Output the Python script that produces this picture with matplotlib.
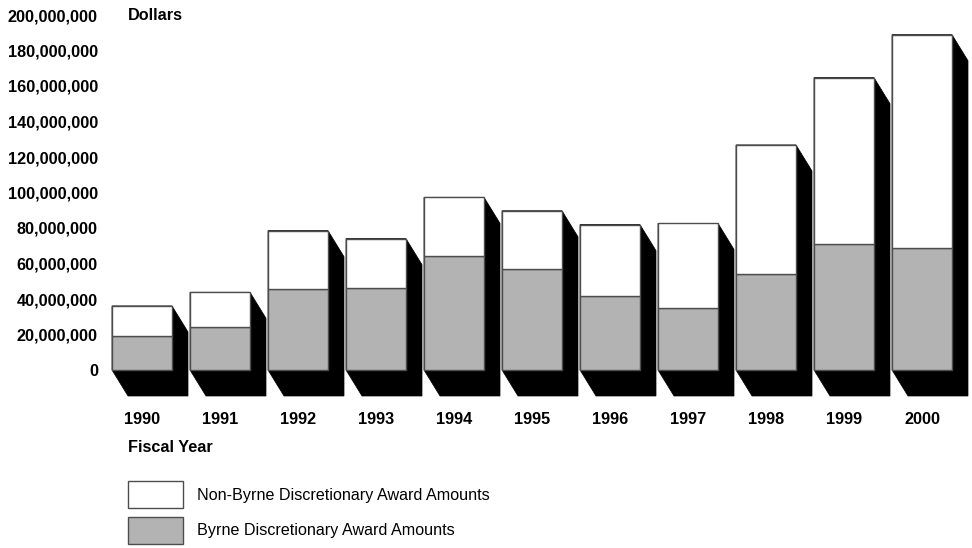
import matplotlib
matplotlib.use('Agg')
import matplotlib.pyplot as plt
from matplotlib.patches import Polygon, Patch
from matplotlib.ticker import FuncFormatter

plt.rcParams['font.family'] = ['Liberation Sans', 'DejaVu Sans']

years = ['1990', '1991', '1992', '1993', '1994', '1995',
         '1996', '1997', '1998', '1999', '2000']
# millions of dollars
byrne = [19.2, 24.4, 45.5, 46.0, 64.2, 56.7, 41.7, 34.9, 54.1, 71.0, 68.9]
non_byrne = [16.9, 19.4, 33.0, 28.0, 33.1, 33.0, 40.2, 47.7, 72.7, 93.7, 120.0]
yticks = [0, 20, 40, 60, 80, 100, 120, 140, 160, 180, 200]

W, H = 972, 548
fig = plt.figure(figsize=(W / 100, H / 100), dpi=100)

# axes placed in pixels: left 100, right 972, top 0, bottom 404
ax = fig.add_axes([100 / W, (H - 404) / H, 872 / W, 404 / H])
pitch = 78.0                # px per bar slot
ypx = 355.0 / 200.0         # px per million
ax.set_xlim((100 - 142) / pitch, (972 - 142) / pitch)
ax.set_ylim(-34 / ypx, 370 / ypx)

width = 60 / pitch
dx = 16 / pitch
dy = 26 / ypx

x = list(range(len(years)))
for i in x:
    L = i - width / 2
    R = i + width / 2
    T = byrne[i] + non_byrne[i]
    B = 0
    ax.add_patch(Polygon([(L, T), (R, T), (R + dx, T - dy), (R + dx, B - dy),
                          (L + dx, B - dy), (L, B)], closed=True,
                         facecolor='black', edgecolor='black', lw=0.5,
                         zorder=2, clip_on=False))

ax.bar(x, byrne, width=width, color='#b3b3b3', edgecolor='#4d4d4d',
       linewidth=1.0, zorder=3, clip_on=False)
ax.bar(x, non_byrne, bottom=byrne, width=width, color='white',
       edgecolor='#4d4d4d', linewidth=1.0, zorder=3, clip_on=False)

bold = 11.7
for s in ax.spines.values():
    s.set_visible(False)
ax.set_yticks(yticks)
ax.yaxis.set_major_formatter(FuncFormatter(lambda v, p: f'{int(v * 1e6):,}'))
ax.set_xticks(x)
ax.set_xticklabels(years)
ax.tick_params(axis='y', length=0, pad=1.5, labelsize=bold)
ax.tick_params(axis='x', length=0, pad=5.5, labelsize=bold)
for lab in ax.get_yticklabels() + ax.get_xticklabels():
    lab.set_fontweight('bold')
ax.patch.set_visible(False)

fig.text(128 / W, 1 - 15 / H, 'Dollars', fontsize=bold, fontweight='bold',
         ha='left', va='center')
fig.text(128 / W, 1 - 447 / H, 'Fiscal Year', fontsize=bold,
         fontweight='bold', ha='left', va='center')

handles = [Patch(facecolor='white', edgecolor='#4d4d4d', lw=1.0),
           Patch(facecolor='#b3b3b3', edgecolor='#4d4d4d', lw=1.0)]
labels = ['Non-Byrne Discretionary Award Amounts',
          'Byrne Discretionary Award Amounts']
fs = 11.6
fpx = fs * 100 / 72
hh = (27 / fpx - 0.245) / 0.65
fig.legend(handles, labels, loc='upper left',
           bbox_to_anchor=(128 / W, 1 - 481 / H), frameon=False,
           fontsize=fs, handlelength=55 / fpx, handleheight=hh,
           handletextpad=14 / fpx, labelspacing=0.54,
           borderpad=0, borderaxespad=0)

fig.savefig('out.png', dpi=100)
